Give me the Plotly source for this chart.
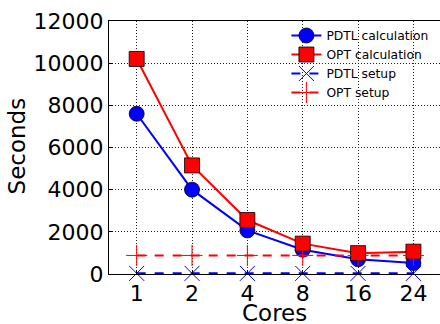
import plotly.graph_objects as go

cores = ["1", "2", "4", "8", "16", "24"]
pdtl_calc = [7600, 4000, 2070, 1150, 700, 520]
opt_calc = [10200, 5150, 2560, 1440, 990, 1060]
pdtl_setup = [30, 30, 30, 30, 30, 30]
opt_setup = [880, 880, 880, 880, 880, 880]
y_ticks = [0, 2000, 4000, 6000, 8000, 10000, 12000]

BLUE = "#0000ff"
RED = "#ff0000"
FONT = "DejaVu Sans"

fig = go.Figure()
fig.add_trace(go.Scatter(
    x=cores, y=pdtl_calc, name="PDTL calculation", mode="lines+markers",
    line=dict(color=BLUE, width=2),
    marker=dict(symbol="circle", size=15, color=BLUE, line=dict(color="black", width=0.8)),
))
fig.add_trace(go.Scatter(
    x=cores, y=opt_calc, name="OPT calculation", mode="lines+markers",
    line=dict(color=RED, width=2),
    marker=dict(symbol="square", size=15, color=RED, line=dict(color="black", width=0.8)),
))
fig.add_trace(go.Scatter(
    x=cores, y=pdtl_setup, name="PDTL setup", mode="lines+markers",
    line=dict(color=BLUE, width=2, dash="dash"),
    marker=dict(symbol="x-thin", size=15, color=BLUE, line=dict(color=BLUE, width=1)),
    cliponaxis=False,
))
fig.add_trace(go.Scatter(
    x=cores, y=opt_setup, name="OPT setup", mode="lines+markers",
    line=dict(color=RED, width=2, dash="dash"),
    marker=dict(symbol="cross-thin", size=15, color=RED, line=dict(color=RED, width=1)),
))

fig.update_layout(
    width=440, height=324,
    margin=dict(l=109, r=0, t=21, b=50, autoexpand=False),
    paper_bgcolor="white", plot_bgcolor="white",
    font=dict(family=FONT, color="black", size=22),
    showlegend=True,
    legend=dict(
        x=0.536, y=1.0, xanchor="left", yanchor="top",
        bgcolor="rgba(0,0,0,0)", borderwidth=0,
        font=dict(size=12.3, family=FONT),
        tracegroupgap=0, itemwidth=30,
    ),
    xaxis=dict(
        type="category", range=[-0.5, 5.48], automargin=False,
        showline=True, linecolor="black", linewidth=1, mirror=True,
        showgrid=True, gridcolor="#222222", griddash="1px,2px", gridwidth=1,
        ticks="inside", ticklen=4, tickcolor="black",
        tickfont=dict(size=22),
        zeroline=False,
    ),
    yaxis=dict(
        range=[0, 12000], tickvals=y_ticks, ticktext=[str(v) for v in y_ticks],
        automargin=False,
        showline=True, linecolor="black", linewidth=1, mirror=False,
        showgrid=True, gridcolor="#222222", griddash="1px,2px", gridwidth=1,
        ticks="inside", ticklen=4, tickcolor="black",
        tickfont=dict(size=22),
        zeroline=False,
    ),
    annotations=[
        dict(text="Cores", xref="paper", yref="paper", x=0.5, y=-0.155,
             xanchor="center", yanchor="middle", showarrow=False,
             font=dict(size=23, family=FONT)),
        dict(text="Seconds", xref="paper", yref="paper", x=-0.275, y=0.508,
             xanchor="center", yanchor="middle", showarrow=False, textangle=-90,
             font=dict(size=23, family=FONT)),
    ],
)

fig.write_html("out.html", config={"displayModeBar": False},
               post_script="document.body.style.margin='0px';")
